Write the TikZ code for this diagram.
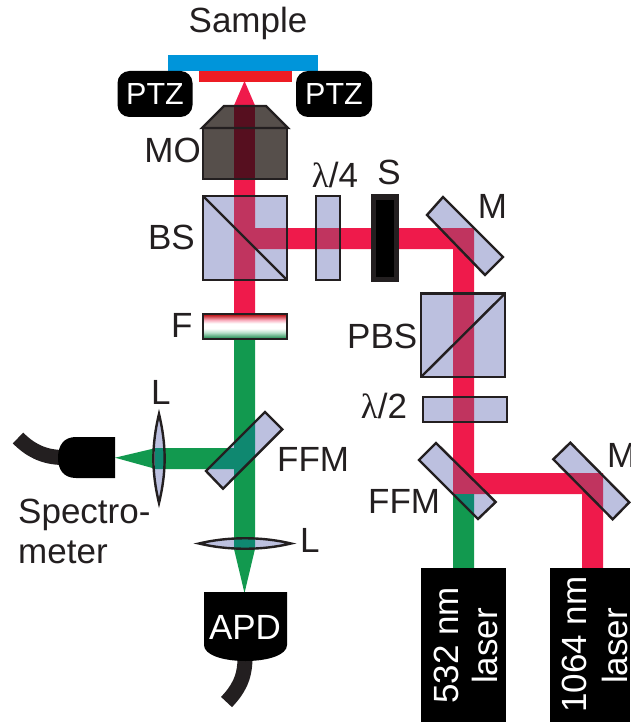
\documentclass[tikz,border=0pt]{standalone}
\usepackage{fontspec}
\setmainfont{Liberation Sans}
\newfontfamily\lamfont{Liberation Serif}
\definecolor{beamred}{HTML}{EF1A4B}
\definecolor{beamgreen}{HTML}{12994F}
\definecolor{glass}{HTML}{BCC0DF}
\definecolor{redglass}{HTML}{C0345F}
\definecolor{greenglass}{HTML}{0F8870}
\definecolor{ink}{HTML}{231F20}
\definecolor{scopebody}{HTML}{564F4B}
\definecolor{scopedark}{HTML}{560F1F}
\definecolor{sampleblue}{HTML}{0095DA}
\definecolor{samplered}{HTML}{ED1C24}
\pgfdeclareverticalshading{filtershade}{100bp}{
  color(0bp)=(beamgreen!85!black);
  color(25bp)=(beamgreen!85!black);
  color(38bp)=(beamgreen!30!white);
  color(46bp)=(white);
  color(56bp)=(white);
  color(63bp)=(beamred!35!white);
  color(75bp)=(red!70!black);
  color(100bp)=(red!70!black)}
\tikzset{
  optic/.style={draw=ink,line width=2.4pt,line join=miter},
  lab/.style={font=\fontsize{35}{40}\selectfont,text=ink,inner sep=0pt},
  whitelab/.style={font=\fontsize{35}{40}\selectfont,text=white,inner sep=0pt},
  ptzbox/.style={fill=black,rounded corners=12pt,minimum height=46pt,inner sep=0pt,text=white,font=\fontsize{30.5}{34}\selectfont},
  fiber/.style={draw=ink,line width=15pt},
}
\newcommand{\redbeams}{
  (234,105) rectangle (255,315)
  (234,228) rectangle (453,249)
  (453,228) rectangle (474,494)
  (474,473) rectangle (603,494)
  (582,473) rectangle (603,568)
}
\newcommand{\greenbeams}{
  (234,338) rectangle (255,549)
  (155,448) rectangle (255,469)
  (453,494) rectangle (474,568)
}
\newcommand{\opticpart}[1]{%
  \fill[glass] #1;
  \begin{scope}\clip #1;
    \fill[redglass] \redbeams;
    \fill[greenglass] \greenbeams;
  \end{scope}
  \draw[optic] #1;
}
\begin{document}
\begin{tikzpicture}[x=1pt,y=-1pt]
\useasboundingbox (0,0) rectangle (630,722);
% beams
\fill[beamred] (244.5,81) -- (255,105.5) -- (234,105.5) -- cycle;
\fill[beamred] \redbeams;
\fill[beamgreen] \greenbeams;
\fill[beamgreen] (115,457.7) -- (156,448) -- (156,469) -- cycle;
\fill[beamgreen] (234,549) -- (255,549) -- (244.5,593) -- cycle;
% sample
\fill[sampleblue] (168,55) rectangle (318,71);
\fill[samplered] (199,71) rectangle (292,82);
\node[ptzbox,minimum width=75pt] (ptzl) at (155,94) {PTZ};
\node[ptzbox,minimum width=76pt] (ptzr) at (334,94) {PTZ};
\node[lab,anchor=base] (sample) at (248,33) {Sample};
% objective
\fill[scopebody] (224,106) -- (266,106) -- (288,128) -- (202,128) -- cycle;
\fill[scopebody] (203,128) rectangle (287,179);
\fill[scopedark] (234,106) rectangle (255,178);
\draw[optic] (224,106) -- (266,106) -- (288,128) -- (202,128) -- cycle;
\draw[optic] (203,128) rectangle (287,179);
% left column optics
\opticpart{(203,196) rectangle (287,280)}
\draw[optic] (203,196) -- (287,280);
\opticpart{(316,196) rectangle (340,280)}
% shutter
\fill[ink] (371,194) rectangle (399,282);
\fill[black] (376,200) rectangle (394,277);
% filter
\shade[shading=filtershade] (203,314) rectangle (287,339);
\draw[optic] (203,314) rectangle (287,339);
% mirrors and cubes
\opticpart{(443,197) -- (503,257) -- (485,275) -- (427,215) -- cycle}
\opticpart{(421,293.5) rectangle (505,377)}
\draw[optic] (421,377) -- (505,293.5);
\opticpart{(423,397) rectangle (507,422)}
\opticpart{(436,443) -- (495.7,502) -- (478,519) -- (419,460) -- cycle}
\opticpart{(570.3,442.7) -- (629.3,502.3) -- (612.7,519.3) -- (553.3,459.3) -- cycle}
\opticpart{(265,412) -- (282.3,429.3) -- (223,488.7) -- (206,471) -- cycle}
% lenses
\opticpart{(159,414) .. controls (151.5,445) and (151.5,472) .. (159,503) .. controls (166.5,472) and (166.5,445) .. (159,414) -- cycle}
\opticpart{(199,543.5) .. controls (228,536.5) and (262,536.5) .. (291,543.5) .. controls (262,550.5) and (228,550.5) .. (199,543.5) -- cycle}
% fibres
\draw[fiber] (62,457.5) .. controls (43,457) and (30,450) .. (18,438);
\draw[fiber] (245,658) .. controls (245,678) and (238,690) .. (226.5,702);
% detectors
\fill[black] (115,437) -- (115,478) -- (76,478) .. controls (64,478) and (58,470) .. (58,458) .. controls (58,445) and (64,437) .. (76,437) -- cycle;
\fill[black] (204,592) -- (287,592) -- (287,645) .. controls (287,655) and (268,661) .. (245.5,661) .. controls (223,661) and (204,655) .. (204,645) -- cycle;
\node[whitelab,anchor=base] (apd) at (245,639) {APD};
% lasers
\fill[black] (421,568) rectangle (506,722);
\fill[black] (550,568) rectangle (630,722);
\node[whitelab,rotate=90,anchor=base west] (a) at (458,704) {532 nm};
\node[whitelab,rotate=90,anchor=base west] (b) at (497,684) {laser};
\node[whitelab,rotate=90,anchor=base west] (c) at (586,713) {1064 nm};
\node[whitelab,rotate=90,anchor=base west] (d) at (627,684) {laser};
% labels
\node[lab,anchor=base east] (mo) at (201,163) {MO};
\node[lab,anchor=base east] (bs) at (195,249) {BS};
\node[lab,anchor=base] (l4) at (335,187) {{\lamfont λ}/4};
\node[lab,anchor=base] (s) at (389,185) {S};
\node[lab,anchor=base] (m1) at (492.5,218) {M};
\node[lab,anchor=base west] (f) at (171,337) {F};
\node[lab,anchor=base west] (pbs) at (347,348) {PBS};
\node[lab,anchor=base] (l2) at (384,418) {{\lamfont λ}/2};
\node[lab,anchor=base west] (l1) at (151,404) {L};
\node[lab,anchor=base west] (ffm1) at (277,471) {FFM};
\node[lab,anchor=base west] (ffm2) at (368,513) {FFM};
\node[lab,anchor=base west] (m2) at (607,467) {M};
\node[lab,anchor=base west] (l3) at (300,552) {L};
\node[lab,anchor=base west] (spec1) at (18,523) {Spectro-};
\node[lab,anchor=base west] (spec2) at (18,563) {meter};
\end{tikzpicture}
\end{document}
